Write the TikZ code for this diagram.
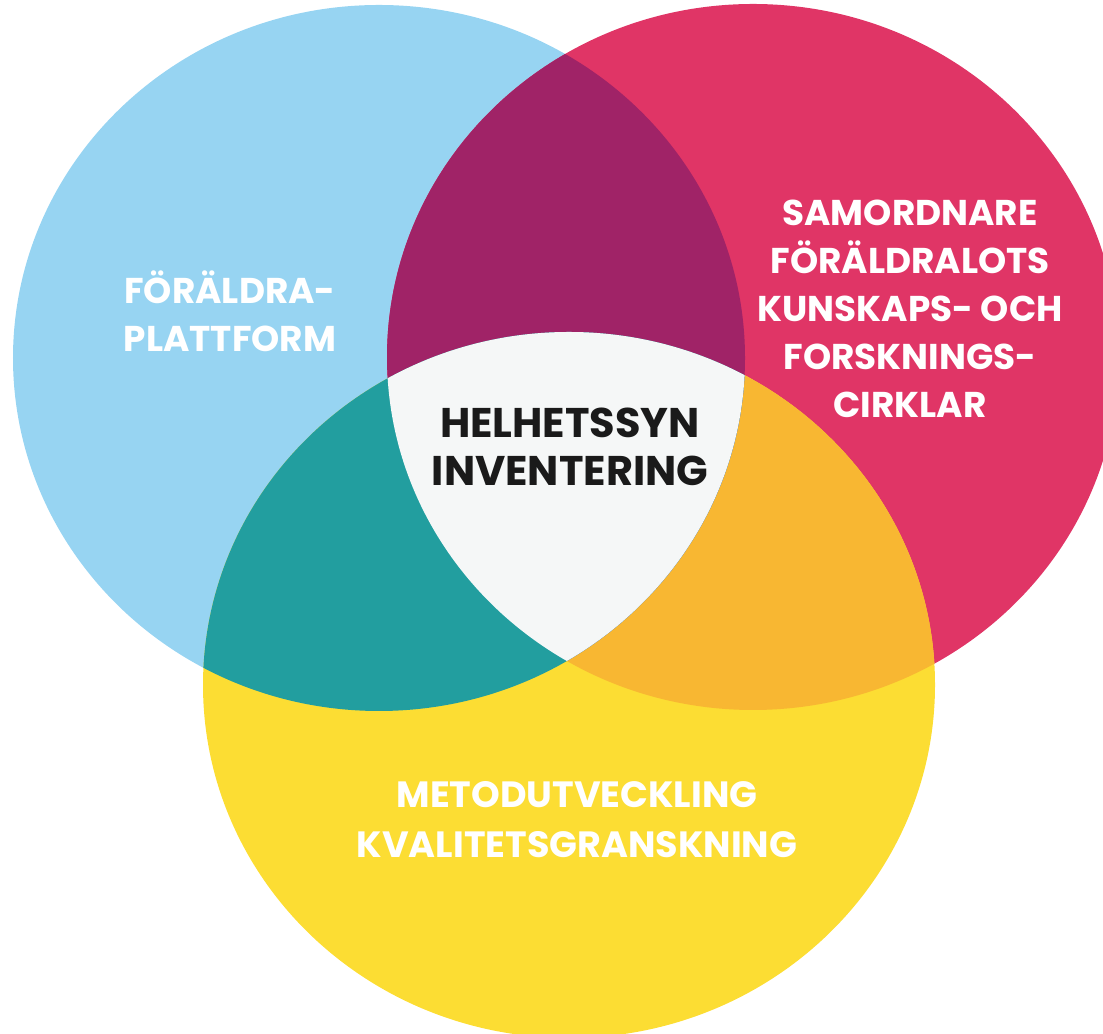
\documentclass[tikz,border=0pt]{standalone}
\usepackage{fontspec}
\setmainfont{Poppins}
\definecolor{skyblue}{RGB}{151,212,242}
\definecolor{raspberry}{RGB}{224,53,102}
\definecolor{sun}{RGB}{252,221,51}
\definecolor{plum}{RGB}{160,35,103}
\definecolor{petrol}{RGB}{34,158,159}
\definecolor{amber}{RGB}{248,183,50}
\definecolor{offwhite}{RGB}{245,247,247}
\definecolor{ink}{RGB}{26,26,26}
\tikzset{lbl/.style={text=white, font=\bfseries\fontsize{10.2}{13.7}\selectfont, align=center, inner sep=0pt}}

\begin{document}
\begin{tikzpicture}

\pgfmathsetmacro{\radX}{3.66}
\pgfmathsetmacro{\radY}{3.53}
\coordinate (B) at (3.79,6.76);
\coordinate (R) at (7.53,6.77);
\coordinate (Y) at (5.69,3.49);

\useasboundingbox (0,0) rectangle (11.03,10.34);
\clip (0,0) rectangle (11.03,10.34);

\fill[skyblue] (B) ellipse [x radius=\radX, y radius=\radY];
\fill[raspberry] (R) ellipse [x radius=\radX, y radius=\radY];
\fill[sun] (Y) ellipse [x radius=\radX, y radius=\radY];

\begin{scope}
\clip (R) ellipse [x radius=\radX, y radius=\radY];
\fill[amber] (Y) ellipse [x radius=\radX, y radius=\radY];
\end{scope}
\begin{scope}
\clip (B) ellipse [x radius=\radX, y radius=\radY];
\fill[plum] (R) ellipse [x radius=\radX, y radius=\radY];
\fill[petrol] (Y) ellipse [x radius=\radX, y radius=\radY];
\clip (R) ellipse [x radius=\radX, y radius=\radY]; % middle part
\fill[offwhite] (Y) ellipse [x radius=\radX, y radius=\radY];
\end{scope}

\node[lbl] (plattform) at (2.30,7.23) {FÖRÄLDRA-\\PLATTFORM};
\node[lbl] (samordnare) at (9.10,7.25) {SAMORDNARE\\FÖRÄLDRALOTS\\KUNSKAPS- OCH\\FORSKNINGS-\\CIRKLAR};
\node[lbl, text=ink, font=\bfseries\fontsize{11.8}{13.8}\selectfont] (helhet) at (5.70,5.87) {HELHETSSYN\\INVENTERING};
\node[lbl, font=\bfseries\fontsize{10.4}{14.2}\selectfont] (metod) at (5.77,2.14) {METODUTVECKLING\\KVALITETSGRANSKNING};

\end{tikzpicture}
\end{document}
